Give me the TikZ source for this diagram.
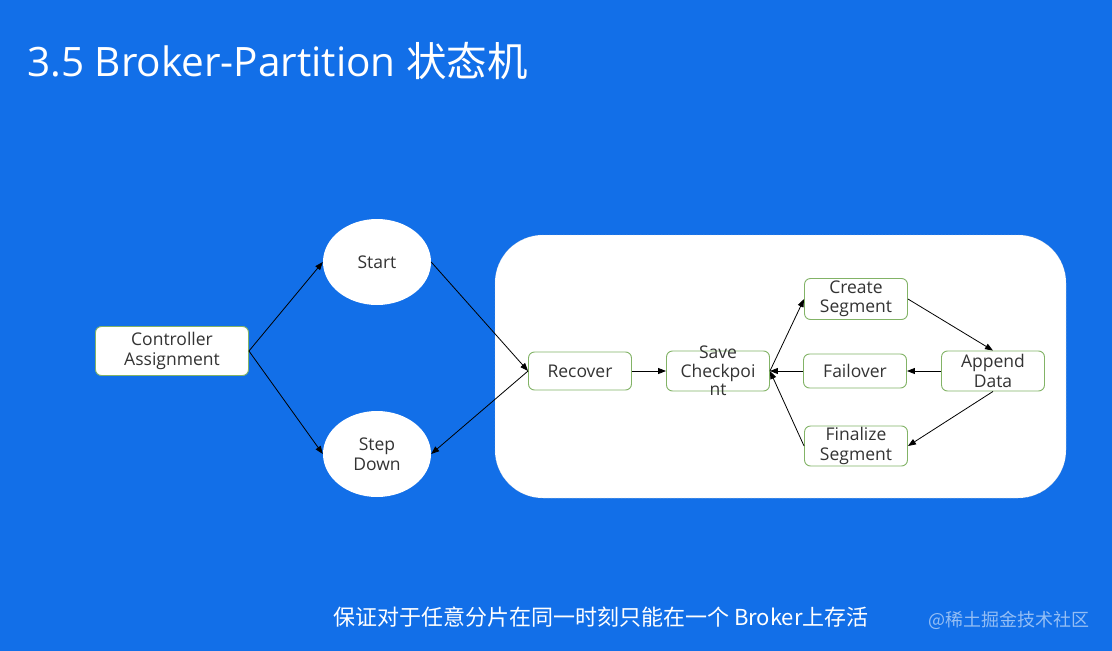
\documentclass[tikz,border=0pt]{standalone}
\usepackage{fontspec}
\setmainfont{Open Sans}
\newfontfamily\cjk{Noto Sans CJK SC}
\usetikzlibrary{arrows.meta}
\usetikzlibrary{shapes.geometric}
\definecolor{bgblue}{RGB}{18,111,232}
\definecolor{boxgreen}{RGB}{130,179,102}

\begin{document}
\begin{tikzpicture}[x=1pt,y=-1pt,
    box/.style = {draw = boxgreen, fill = white, line width = 0.9pt,
                  rounded corners = 6pt, minimum width = 103pt,
                  minimum height = 38pt, inner sep = 0.5pt, align = center,
                  text = black!80, font = \fontsize{17.5}{19.5}\selectfont},
    oval/.style = {ellipse, fill = white, minimum width = 108pt,
                   minimum height = 86pt, inner sep = 0pt, align = center,
                   text = black!80, font = \fontsize{17.5}{20}\selectfont},
    link/.style = {-{Triangle[length=8pt,width=6pt]}, line width = 0.8pt}]
		\fill[bgblue] (0,0) rectangle (1112,651);
		\node[anchor=base west, text=white, inner sep=0pt,
		      font=\fontsize{40.5}{46}\selectfont] (title) at (27,76)
		      {3.5 Broker-Partition {\cjk 状态机}};
		% left part
		\node[box, minimum width=153pt, minimum height=49pt] (ctrl) at (172,351) {Controller\\Assignment};
		\node[oval] (start) at (377,262) {Start};
		\node[oval] (down) at (377,454) {Step\\Down};
		% partition part
		\draw[fill=white, draw=black!20, densely dotted, rounded corners=48pt]
		  (495,235) rectangle (1066,498);
		\node[box] (recover) at (580,371) {Recover};
		\node[box, minimum height=40pt] (save) at (718,371) {};
		\node[font=\fontsize{17.5}{18.5}\selectfont, text=black!80, align=center, inner sep=0pt] (savetext) at (save) {Save\\Checkpoi\\nt};
		\node[box, minimum height=41pt] (create) at (856,299) {Create\\Segment};
		\node[box, minimum height=34pt] (failover) at (855,371) {Failover};
		\node[box, minimum height=40pt] (append) at (993,371) {Append\\Data};
		\node[box, minimum height=40pt] (finalize) at (856,446) {Finalize\\Segment};
		% transitions
		\draw[link] (ctrl.east) -- (start.west);
		\draw[link] (ctrl.east) -- (down.west);
		\draw[link] (start.east) -- (recover.west);
		\draw[link] (recover.west) -- (down.east);
		\draw[link] (recover) -- (save);
		\draw[link] (save.east) -- (create.west);
		\draw[link] (create.east) -- (append.north);
		\draw[link] (append) -- (failover);
		\draw[link] (failover) -- (save);
		\draw[link] (append.south) -- (finalize.east);
		\draw[link] (finalize.west) -- (save.east);
		% footer
		\node[anchor=base west, text=white, inner sep=0pt,
		      font=\cjk\fontsize{22}{26}\selectfont] (note) at (333,625)
		      {保证对于任意分片在同一时刻只能在一个 Broker上存活};
		\node[anchor=base east, text=white, opacity=0.55, inner sep=0pt,
		      font=\cjk\fontsize{18}{22}\selectfont] (mark) at (1090,626)
		      {@稀土掘金技术社区};
\end{tikzpicture}
\end{document}
